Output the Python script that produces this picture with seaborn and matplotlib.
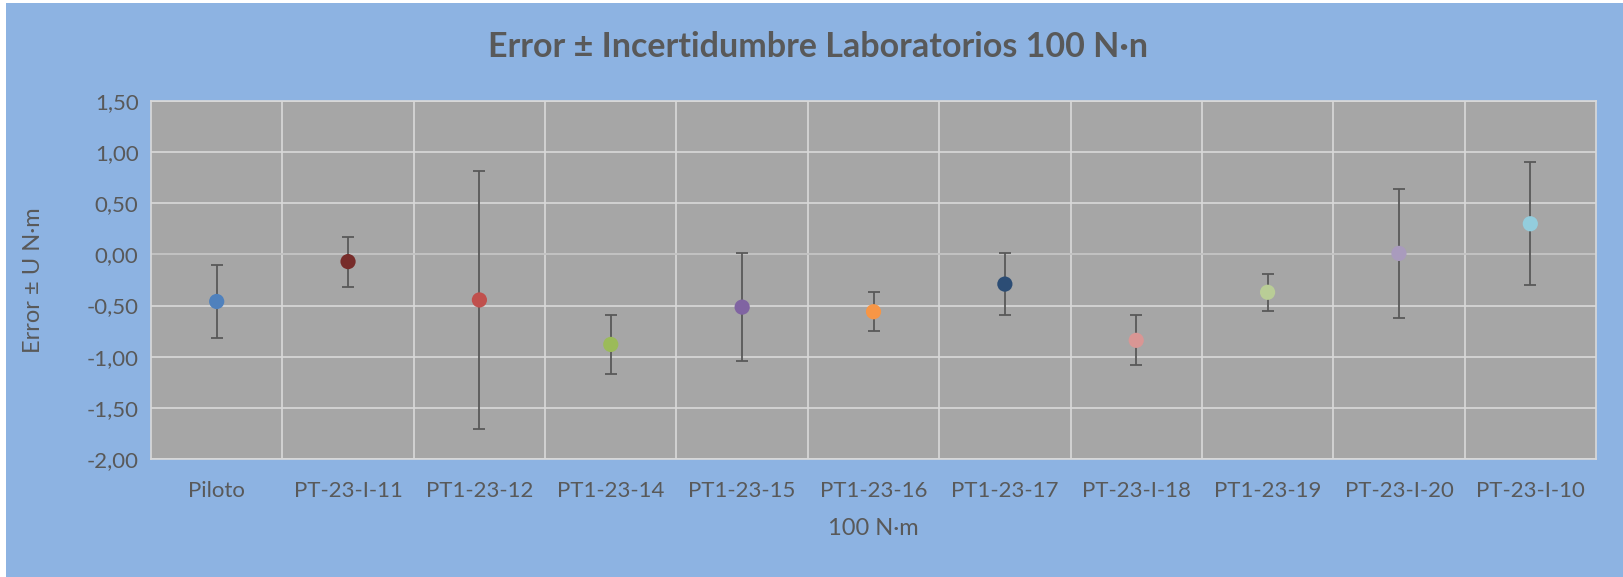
import matplotlib
matplotlib.use("Agg")
import matplotlib.pyplot as plt
import matplotlib.ticker as mticker
from matplotlib.patches import Rectangle
import seaborn as sns
import pandas as pd

# data
labs = ["Piloto", "PT-23-I-11", "PT1-23-12", "PT1-23-14", "PT1-23-15", "PT1-23-16",
        "PT1-23-17", "PT-23-I-18", "PT1-23-19", "PT-23-I-20", "PT-23-I-10"]
error = [-0.46, -0.07, -0.445, -0.88, -0.515, -0.56, -0.29, -0.84, -0.37, 0.01, 0.30]
unc = [0.36, 0.245, 1.26, 0.29, 0.53, 0.19, 0.30, 0.245, 0.18, 0.63, 0.60]
colors = ["#4F81BD", "#772C2A", "#C0504D", "#9BBB59", "#8064A2", "#F79646",
          "#2C4D75", "#D99694", "#B9CD96", "#A99BBD", "#93CDDD"]

df = pd.DataFrame({"lab": labs, "error": error, "U": unc})

sns.set_style("white")
plt.rcParams["font.family"] = ["Lato", "DejaVu Sans"]
txt = "#595959"
blue = "#8DB3E2"

fig = plt.figure(figsize=(16.23, 5.77), dpi=100)
fig.patch.set_facecolor("white")
fig.patches.append(Rectangle((6 / 1623, 0), 1, 1 - 3 / 577, transform=fig.transFigure,
                             facecolor=blue, edgecolor="none", zorder=-10))

ax = fig.add_axes([151 / 1623, 1 - 459 / 577, (1596 - 151) / 1623, (459 - 101) / 577])
ax.set_facecolor("#A6A6A6")

ax.errorbar(range(len(labs)), df["error"], yerr=df["U"], fmt="none",
            ecolor="#595959", elinewidth=1.3, capsize=4.5, capthick=1.3, zorder=3)
sns.scatterplot(data=df, x="lab", y="error", hue="lab", palette=colors, s=120,
                edgecolor="none", legend=False, ax=ax, zorder=4)

ax.set_xlim(-0.5, len(labs) - 0.5)
ax.set_ylim(-2.0, 1.5)
ax.yaxis.set_major_locator(mticker.MultipleLocator(0.5))
ax.yaxis.set_major_formatter(mticker.FuncFormatter(lambda v, p: f"{v:.2f}".replace(".", ",")))
ax.xaxis.set_minor_locator(mticker.FixedLocator([i + 0.5 for i in range(len(labs) - 1)]))

ax.grid(axis="y", which="major", color="#D9D9D9", linewidth=1.2)
ax.grid(axis="x", which="minor", color="#D9D9D9", linewidth=1.2)
ax.axhline(0, color="#BFBFBF", linewidth=1.2, zorder=1)
for s in ax.spines.values():
    s.set_color("#D9D9D9")
    s.set_linewidth(1.2)

ax.tick_params(axis="both", which="both", length=0, labelsize=16, colors=txt)
ax.tick_params(axis="x", pad=16)
ax.tick_params(axis="y", pad=9)

ax.set_xlabel("100 N·m", fontsize=17, color=txt, labelpad=12)
ax.set_ylabel("Error ± U N·m", fontsize=17, color=txt)
ax.yaxis.set_label_coords(-0.074, 0.5)
fig.text(0.504, 1 - 47 / 577, "Error ± Incertidumbre Laboratorios 100 N·n", ha="center",
         va="center", fontsize=24.5, fontweight="bold", color=txt)

fig.savefig("out.png", dpi=100)
